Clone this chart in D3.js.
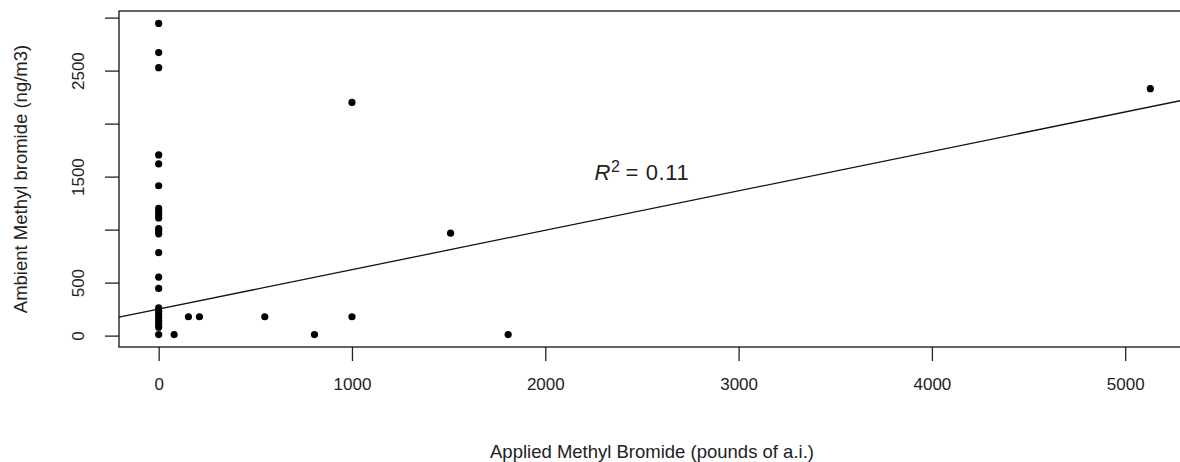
<!DOCTYPE html>
<html>
<head>
<meta charset="utf-8">
<script src="https://cdn.jsdelivr.net/npm/d3@7"></script>
<style>
  body { margin: 0; background: #fff; }
  svg { display: block; font-family: "Liberation Sans", Arial, sans-serif; }
</style>
</head>
<body>
<div id="chart"></div>
<script>
// Data
let appliedMB = [0, 0, 0, 0, 0, 0, 0, 0, 0, 0, 0, 0, 0, 0, 0, 0,
                 0, 0, 0, 0, 0, 0, 0, 0,
                 80, 154, 211, 549, 806, 1000, 1000, 1510, 1808, 5130];
let ambientMB = [2945, 2670, 2528, 1705, 1620, 1414, 1200, 1170, 1140, 1110, 1010, 990, 960, 782, 552, 445,
                 261, 230, 200, 170, 140, 110, 80, 10,
                 10, 178, 178, 178, 10, 178, 2200, 966, 10, 2330];

let xTicks = [0, 1000, 2000, 3000, 4000, 5000];
let yTicks = [0, 500, 1000, 1500, 2000, 2500, 3000];
let yTickLabels = [0, 500, 1500, 2500]; // R drops the ones that would overlap

// fitted line  y = a + b x
let fitIntercept = 250;
let fitSlope = 0.372;
let r2Label = "0.11";

let W = 1180, H = 462;
let margin = {top: 11, right: -10, bottom: 115, left: 119};
let width = W - margin.left - margin.right;
let height = H - margin.top - margin.bottom;

let svg = d3.select("#chart").append("svg")
    .attr("width", W)
    .attr("height", H);

// R pads the data range by 4% on each side
let xExt = d3.extent(appliedMB), yExt = d3.extent(ambientMB);
let xPad = (xExt[1] - xExt[0]) * 0.04, yPad = (yExt[1] - yExt[0]) * 0.04;

let xScale = d3.scaleLinear().domain([xExt[0] - xPad, xExt[1] + xPad]).range([0, width]);
let yScale = d3.scaleLinear().domain([yExt[0] - yPad, yExt[1] + yPad]).range([height, 0]);

let g = svg.append("g")
    .attr("transform", "translate(" + margin.left + "," + margin.top + ")");

g.append("clipPath").attr("id", "plotclip")
  .append("rect").attr("width", width).attr("height", height);

// x axis
let xAxis = g.append("g")
    .attr("transform", "translate(0," + height + ")")
    .call(d3.axisBottom(xScale).tickValues(xTicks).tickSize(14).tickPadding(17)
        .tickFormat(d3.format("d")));
xAxis.select(".domain").remove();
xAxis.selectAll("line").attr("stroke", "#222").attr("stroke-width", 1.3);
xAxis.selectAll("text")
    .attr("font-size", "17px")
    .attr("font-family", "Liberation Sans, Arial, sans-serif")
    .attr("fill", "#222");

// y axis with rotated labels
let yAxis = g.append("g")
    .call(d3.axisLeft(yScale).tickValues(yTicks).tickSize(14)
        .tickFormat(function(d) { return yTickLabels.indexOf(d) >= 0 ? d : ""; }));
yAxis.select(".domain").remove();
yAxis.selectAll("line").attr("stroke", "#222").attr("stroke-width", 1.3);
yAxis.selectAll("text")
    .attr("x", 0)
    .attr("y", -35)
    .attr("dy", 0)
    .attr("transform", "rotate(-90)")
    .attr("text-anchor", "middle")
    .attr("font-size", "17px")
    .attr("font-family", "Liberation Sans, Arial, sans-serif")
    .attr("fill", "#222");

// regression line
let fitLine = d3.line()
    .x(function(d) { return xScale(d); })
    .y(function(d) { return yScale(fitIntercept + fitSlope * d); });
g.append("path")
    .datum(xScale.domain())
    .attr("clip-path", "url(#plotclip)")
    .attr("d", fitLine)
    .attr("fill", "none")
    .attr("stroke", "#111")
    .attr("stroke-width", 1.3);

// points
g.selectAll(".dot")
    .data(appliedMB.map(function(d, i) { return {x: d, y: ambientMB[i]}; }))
    .enter().append("circle")
    .attr("class", "dot")
    .attr("cx", function(d) { return xScale(d.x); })
    .attr("cy", function(d) { return yScale(d.y); })
    .attr("r", 3.6)
    .attr("fill", "#000");

// box
g.append("rect")
    .attr("width", width)
    .attr("height", height)
    .attr("fill", "none")
    .attr("stroke", "#111")
    .attr("stroke-width", 1.3);

// R^2 annotation
let ann = g.append("text")
    .attr("x", xScale(2500))
    .attr("y", yScale(1500))
    .attr("dy", "0.17em")
    .attr("text-anchor", "middle")
    .attr("font-size", "22px")
    .attr("letter-spacing", "0.6px")
    .attr("fill", "#222");
ann.append("tspan").attr("font-style", "italic").text("R");
ann.append("tspan").attr("font-size", "16px").attr("dy", "-0.55em").text("2");
ann.append("tspan").attr("dy", "0.38em").text("\u2009= " + r2Label);

// axis titles
svg.append("text")
    .attr("x", 652)
    .attr("y", 458)
    .attr("text-anchor", "middle")
    .attr("font-size", "18.5px")
    .attr("fill", "#222")
    .text("Applied Methyl Bromide (pounds of a.i.)");

svg.append("text")
    .attr("transform", "translate(27," + (margin.top + height / 2) + ") rotate(-90)")
    .attr("text-anchor", "middle")
    .attr("font-size", "18.5px")
    .attr("fill", "#222")
    .text("Ambient Methyl bromide (ng/m3)");
</script>
</body>
</html>
